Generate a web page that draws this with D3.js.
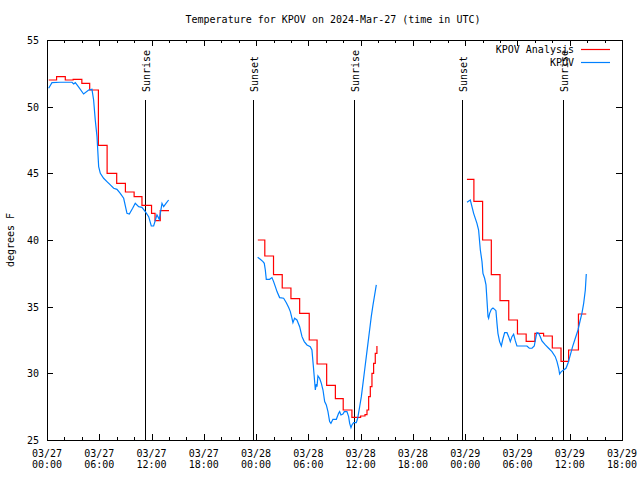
<!DOCTYPE html>
<html>
<head>
<meta charset="utf-8">
<script src="https://cdn.jsdelivr.net/npm/d3@7"></script>
<style>
  html, body { margin: 0; padding: 0; background: #fff; }
  svg { display: block; }
  text { font-family: "DejaVu Sans Mono", "Liberation Mono", monospace; font-size: 10px; fill: #000; }
</style>
</head>
<body>
<svg id="chart" width="640" height="480"></svg>
<script>
// ---------- data (hours since 2024-03-27 00:00 UTC, temperatures in °F) ----------
const titleText = "Temperature for KPOV on 2024-Mar-27 (time in UTC)";
const yLabelText = "degrees F";
const seriesNames = ["KPOV Analysis", "KPOV"];
const seriesColors = ["#ff0000", "#0080ff"];

const yTickValues = [25, 30, 35, 40, 45, 50, 55];
const xMajorTickHours = [0, 6, 12, 18, 24, 30, 36, 42, 48, 54, 60, 66];
const xMinorTickHours = d3.range(0, 67, 2);

const sunEventNames = ["Sunrise", "Sunset", "Sunrise", "Sunset", "Sunrise"];
const sunEventHours = [11.3, 23.65, 35.2, 47.63, 59.18];

// KPOV Analysis (red, stepped)
const anaHours1 = [0.2, 1.1, 2.1, 3.0, 4.0, 4.9, 5.9, 6.9, 8.0, 9.0, 10.0, 10.9, 12.0, 12.4, 13.0, 14.0];
const anaTemps1 = [52.0, 52.25, 52.0, 52.05, 51.75, 51.25, 47.1, 45.0, 44.25, 43.6, 43.25, 42.6, 42.0, 41.45, 42.2, 42.2];
const anaHours2 = [24.2, 25.0, 26.0, 27.0, 28.0, 29.0, 30.1, 31.0, 32.1, 33.1, 34.0, 35.0, 36.0, 36.5, 36.73, 36.92, 37.11, 37.3, 37.49, 37.68, 37.87];
const anaTemps2 = [40.0, 38.8, 37.4, 36.4, 35.6, 34.5, 32.5, 30.7, 29.1, 28.1, 27.25, 26.7, 26.8, 26.9, 27.25, 28.25, 29.0, 30.0, 30.75, 31.5, 32.05];
const anaHours3 = [48.2, 49.0, 50.0, 51.0, 52.0, 53.0, 54.0, 55.0, 56.0, 57.0, 58.0, 59.0, 59.87, 61.0, 61.9];
const anaTemps3 = [44.55, 42.9, 40.0, 37.4, 35.45, 34.0, 32.95, 32.4, 33.0, 32.8, 31.9, 30.9, 31.75, 34.45, 34.45];

// KPOV observations (blue)
const obsHours1 = [0.19, 0.57, 1.5, 2.4, 2.87, 3.06, 3.25, 3.6, 4.2, 4.78, 5.16, 5.35, 5.54, 5.74, 5.93, 6.12, 6.5, 6.88, 7.27, 7.65, 8.03, 8.41, 8.8, 9.18, 9.45, 9.83, 10.13, 10.52, 10.9, 11.28, 11.67, 11.97, 12.24, 12.62, 12.89, 13.2, 13.39, 13.66, 13.96];
const obsTemps1 = [51.38, 51.8, 51.83, 51.83, 51.83, 51.7, 51.8, 51.5, 50.95, 51.25, 51.3, 50.5, 49.0, 47.75, 45.5, 45.0, 44.63, 44.38, 44.13, 43.88, 43.8, 43.5, 43.13, 42.0, 41.95, 42.38, 42.75, 42.5, 42.45, 42.13, 41.75, 41.05, 41.05, 41.88, 41.55, 42.75, 42.5, 42.75, 43.0];
const obsHours2 = [24.18, 24.48, 24.79, 24.94, 25.06, 25.17, 25.55, 25.82, 26.01, 26.21, 26.40, 26.70, 27.16, 27.47, 27.74, 27.93, 28.12, 28.23, 28.42, 28.69, 29.0, 29.27, 29.53, 29.84, 30.22, 30.41, 30.61, 30.8, 30.91, 30.99, 31.10, 31.29, 31.49, 31.68, 31.87, 32.06, 32.25, 32.44, 32.59, 32.82, 33.21, 33.47, 33.59, 33.74, 33.97, 34.13, 34.43, 34.62, 34.74, 34.89, 35.0, 35.2, 35.5, 35.66, 35.89, 36.08, 36.27, 36.46, 36.65, 36.84, 37.03, 37.22, 37.42, 37.61, 37.8];
const obsTemps2 = [38.7, 38.55, 38.38, 38.25, 37.75, 37.05, 37.05, 37.18, 36.88, 36.5, 36.13, 35.68, 35.63, 35.3, 34.93, 34.63, 34.13, 33.8, 34.13, 34.0, 33.5, 32.75, 32.38, 32.13, 32.0, 31.75, 30.25, 28.75, 29.2, 29.0, 29.8, 29.63, 29.25, 28.75, 27.88, 27.63, 27.13, 26.38, 26.25, 26.55, 26.55, 27.0, 27.13, 26.88, 26.95, 27.13, 27.13, 26.75, 26.25, 25.93, 26.13, 26.3, 26.3, 26.63, 27.5, 28.25, 29.25, 30.25, 31.25, 32.25, 33.25, 34.25, 35.13, 35.88, 36.63];
const obsHours3 = [48.21, 48.59, 48.97, 49.35, 49.54, 49.74, 49.93, 50.04, 50.23, 50.39, 50.5, 50.62, 50.69, 50.81, 51.0, 51.19, 51.38, 51.53, 51.65, 51.76, 51.95, 52.15, 52.3, 52.53, 52.8, 52.99, 53.18, 53.37, 53.56, 53.75, 53.94, 55.09, 55.36, 55.67, 55.93, 56.13, 56.24, 56.43, 56.62, 56.81, 57.2, 57.58, 57.96, 58.34, 58.54, 58.73, 58.84, 59.03, 59.3, 59.57, 59.8, 60.07, 60.33, 60.64, 60.95, 61.21, 61.4, 61.6, 61.79, 61.9];
const obsTemps3 = [42.83, 43.0, 42.0, 41.25, 40.75, 39.25, 38.38, 37.5, 37.13, 36.63, 35.5, 34.25, 34.13, 34.5, 34.8, 34.9, 34.8, 34.7, 33.75, 33.0, 32.38, 32.05, 32.5, 33.05, 33.05, 32.75, 32.38, 32.75, 32.93, 32.45, 32.05, 32.05, 31.88, 31.88, 32.05, 32.75, 33.05, 33.0, 32.75, 32.43, 32.13, 31.88, 31.63, 31.25, 30.88, 30.38, 29.95, 30.13, 30.25, 30.38, 30.75, 31.38, 32.0, 32.63, 33.25, 34.0, 34.5, 35.25, 36.25, 37.45];

// ---------- layout ----------
const plotLeft = 47, plotRight = 622, plotTop = 40, plotBottom = 440;
const svg = d3.select("#chart");

const x = d3.scaleLinear().domain([0, 66]).range([plotLeft, plotRight]);
const y = d3.scaleLinear().domain([25, 55]).range([plotBottom, plotTop]);

const zip = (hs, ts) => hs.map((h, i) => ({ h: h, t: ts[i] }));
const anaSegments = [zip(anaHours1, anaTemps1), zip(anaHours2, anaTemps2), zip(anaHours3, anaTemps3)];
const obsSegments = [zip(obsHours1, obsTemps1), zip(obsHours2, obsTemps2), zip(obsHours3, obsTemps3)];

// ---------- axes (ticks pointing inward, mirrored) ----------
function styleAxis(g) {
  g.select(".domain").remove();
  g.selectAll("line").attr("stroke", "#000").attr("shape-rendering", "crispEdges");
  g.selectAll("text").remove();
}
svg.append("g").attr("transform", `translate(0,${plotBottom})`)
  .call(d3.axisBottom(x).tickValues(xMinorTickHours).tickSize(-3)).call(styleAxis);
svg.append("g").attr("transform", `translate(0,${plotBottom})`)
  .call(d3.axisBottom(x).tickValues(xMajorTickHours).tickSize(-6)).call(styleAxis);
svg.append("g").attr("transform", `translate(0,${plotTop})`)
  .call(d3.axisTop(x).tickValues(xMinorTickHours).tickSize(-3)).call(styleAxis);
svg.append("g").attr("transform", `translate(0,${plotTop})`)
  .call(d3.axisTop(x).tickValues(xMajorTickHours).tickSize(-6)).call(styleAxis);

const yAxisG = svg.append("g").attr("transform", `translate(${plotLeft},0)`)
  .call(d3.axisLeft(y).tickValues(yTickValues).tickSize(-6).tickPadding(8));
yAxisG.select(".domain").remove();
yAxisG.selectAll("line").attr("stroke", "#000").attr("shape-rendering", "crispEdges");
yAxisG.attr("font-family", null).attr("font-size", null);
yAxisG.selectAll("text").attr("dy", "0.35em");

svg.append("g").attr("transform", `translate(${plotRight},0)`)
  .call(d3.axisRight(y).tickValues(yTickValues).tickSize(-6)).call(styleAxis);

// x tick labels (two lines)
const pad2 = n => String(n).padStart(2, "0");
const xLab = svg.append("g");
xMajorTickHours.forEach(h => {
  const day = 27 + Math.floor(h / 24);
  const hr = h % 24;
  const t = xLab.append("text").attr("text-anchor", "middle").attr("x", x(h)).attr("y", 457);
  t.append("tspan").attr("x", x(h)).text("03/" + pad2(day));
  t.append("tspan").attr("x", x(h)).attr("dy", 11).text(pad2(hr) + ":00");
});

// border
svg.append("rect").attr("x", plotLeft).attr("y", plotTop).attr("width", plotRight - plotLeft).attr("height", plotBottom - plotTop)
  .attr("fill", "none").attr("stroke", "#000").attr("shape-rendering", "crispEdges");

// title & y label
svg.append("text").attr("x", 333).attr("y", 23).attr("text-anchor", "middle").text(titleText);
svg.append("text").attr("transform", "translate(14,240) rotate(-90)").attr("text-anchor", "middle").text(yLabelText);

// sunrise / sunset lines
sunEventHours.forEach((h, i) => {
  const xp = Math.round(x(h)) + 0.5;
  svg.append("line").attr("x1", xp).attr("x2", xp).attr("y1", 100).attr("y2", plotBottom)
    .attr("stroke", "#000").attr("stroke-width", 1).attr("shape-rendering", "crispEdges");
  svg.append("text").attr("transform", `translate(${xp + 4},92) rotate(-90)`)
    .attr("text-anchor", "start").text(sunEventNames[i]);
});

// data lines
const stepLine = d3.line().x(d => x(d.h)).y(d => y(d.t)).curve(d3.curveStepAfter);
const obsLine = d3.line().x(d => x(d.h)).y(d => y(d.t));

svg.append("g").selectAll("path").data(anaSegments).join("path")
  .attr("d", stepLine).attr("fill", "none").attr("stroke", seriesColors[0]).attr("stroke-width", 1.2);
svg.append("g").selectAll("path").data(obsSegments).join("path")
  .attr("d", obsLine).attr("fill", "none").attr("stroke", seriesColors[1]).attr("stroke-width", 1.2);

// legend
const legendY = [53, 66];
seriesNames.forEach((name, i) => {
  svg.append("text").attr("x", 574).attr("y", legendY[i]).attr("text-anchor", "end").text(name);
  svg.append("line").attr("x1", 581).attr("x2", 610).attr("y1", legendY[i] - 3.5).attr("y2", legendY[i] - 3.5)
    .attr("stroke", seriesColors[i]).attr("stroke-width", 1.2);
});
</script>
</body>
</html>
